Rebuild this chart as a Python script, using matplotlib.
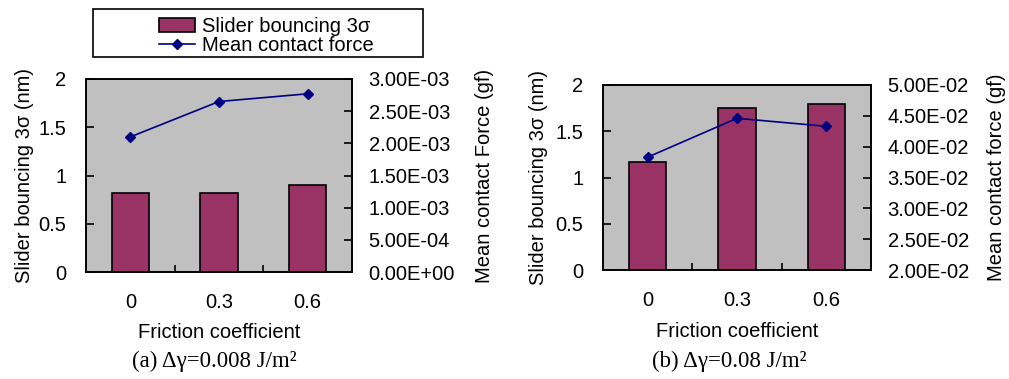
import matplotlib
matplotlib.use("Agg")
import matplotlib.pyplot as plt
from matplotlib.patches import Rectangle, Patch
from matplotlib.lines import Line2D
from matplotlib.ticker import FixedLocator, FuncFormatter

friction = ["0", "0.3", "0.6"]

bounce_a = [0.82, 0.82, 0.90]
force_a = [2.10e-3, 2.65e-3, 2.77e-3]

bounce_b = [1.17, 1.75, 1.80]
force_b = [3.83e-2, 4.46e-2, 4.33e-2]

force_ticks_a = [0, 5e-4, 1e-3, 1.5e-3, 2e-3, 2.5e-3, 3e-3]
force_ticks_b = [2e-2, 2.5e-2, 3e-2, 3.5e-2, 4e-2, 4.5e-2, 5e-2]

BAR_COLOR = "#993366"
LINE_COLOR = "#000080"
BG = "#C0C0C0"
SANS = "Liberation Sans"
SERIF = "Liberation Serif"
FS = 14.5

W, H = 1009, 379
fig = plt.figure(figsize=(W / 100, H / 100), dpi=100)


def px_axes(x0, x1, y0, y1):
    return fig.add_axes([x0 / W, 1 - y1 / H, (x1 - x0) / W, (y1 - y0) / H])


def panel(box, bounce, force, fticks, rlabel, lab_pos):
    ax = px_axes(*box)
    ax.set_facecolor(BG)
    x = range(len(friction))
    ax.bar(x, bounce, width=0.42, color=BAR_COLOR, edgecolor="black", linewidth=1.2, zorder=2)
    ax.set_xlim(-0.5, len(friction) - 0.5)
    ax.set_ylim(0, 2)
    ax.set_yticks([0, 0.5, 1, 1.5, 2])
    ax.set_yticklabels(["0", "0.5", "1", "1.5", "2"])
    ax.set_xticks(list(x))
    ax.set_xticklabels(friction)
    ax.xaxis.set_minor_locator(FixedLocator([0.5, 1.5]))
    ax.tick_params(axis="x", which="major", length=0, pad=15, labelsize=FS)
    ax.tick_params(axis="x", which="minor", direction="in", length=5, width=1.2)
    ax.tick_params(axis="y", direction="in", length=6, width=1.2, pad=14, labelsize=FS)
    for lab in ax.get_xticklabels() + ax.get_yticklabels():
        lab.set_fontfamily(SANS)
    for s in ax.spines.values():
        s.set_linewidth(1.2)

    ax.set_xlabel("Friction coefficient", fontsize=FS, family=SANS)
    ax.xaxis.set_label_coords(0.5, lab_pos[0])
    ax.set_ylabel("Slider bouncing 3σ (nm)", fontsize=FS, family=SANS)
    ax.yaxis.set_label_coords(lab_pos[1], 0.5)

    ax2 = ax.twinx()
    ax2.patch.set_visible(False)
    ax2.plot(list(x), force, color=LINE_COLOR, linewidth=1.2, marker="D", markersize=5.5, zorder=3)
    ax2.set_ylim(fticks[0], fticks[-1])
    ax2.yaxis.set_major_locator(FixedLocator(fticks))
    ax2.yaxis.set_major_formatter(FuncFormatter(lambda v, p: f"{v:.2E}"))
    ax2.tick_params(axis="y", direction="in", length=6, width=1.2, pad=12, labelsize=FS)
    for lab in ax2.get_yticklabels():
        lab.set_fontfamily(SANS)
    for s in ax2.spines.values():
        s.set_linewidth(1.2)
    ax2.set_ylabel(rlabel, fontsize=FS, family=SANS)
    ax2.yaxis.set_label_coords(lab_pos[2], 0.5)
    return ax


panel((86, 352, 79, 272), bounce_a, force_a, force_ticks_a,
      "Mean contact Force (gf)", (-0.265, -0.195, 1.462))
panel((603, 871, 85, 270), bounce_b, force_b, force_ticks_b,
      "Mean contact force (gf)", (-0.282, -0.205, 1.433))

fig.text(214 / W, 1 - 361 / H, "(a) Δγ=0.008 J/m²", family=SERIF, fontsize=16.5,
         ha="center", va="center")
fig.text(729 / W, 1 - 361 / H, "(b) Δγ=0.08 J/m²", family=SERIF, fontsize=16.5,
         ha="center", va="center")

# legend frame
fig.patches.append(Rectangle((93 / W, 1 - 57 / H), 330 / W, 48 / H, transform=fig.transFigure,
                             facecolor="white", edgecolor="black", linewidth=1.2))
handles = [Patch(facecolor=BAR_COLOR, edgecolor="black", linewidth=1.2),
           Line2D([], [], color=LINE_COLOR, linewidth=1.2, marker="D", markersize=5.5)]
fig.legend(handles, ["Slider bouncing 3σ", "Mean contact force"], loc="upper left",
           bbox_to_anchor=(147 / W, 1 - 5 / H), frameon=False, borderpad=0.1,
           labelspacing=0.0, handlelength=1.8, handletextpad=0.35,
           prop={"family": SANS, "size": FS})

fig.savefig("out.png", dpi=100)
